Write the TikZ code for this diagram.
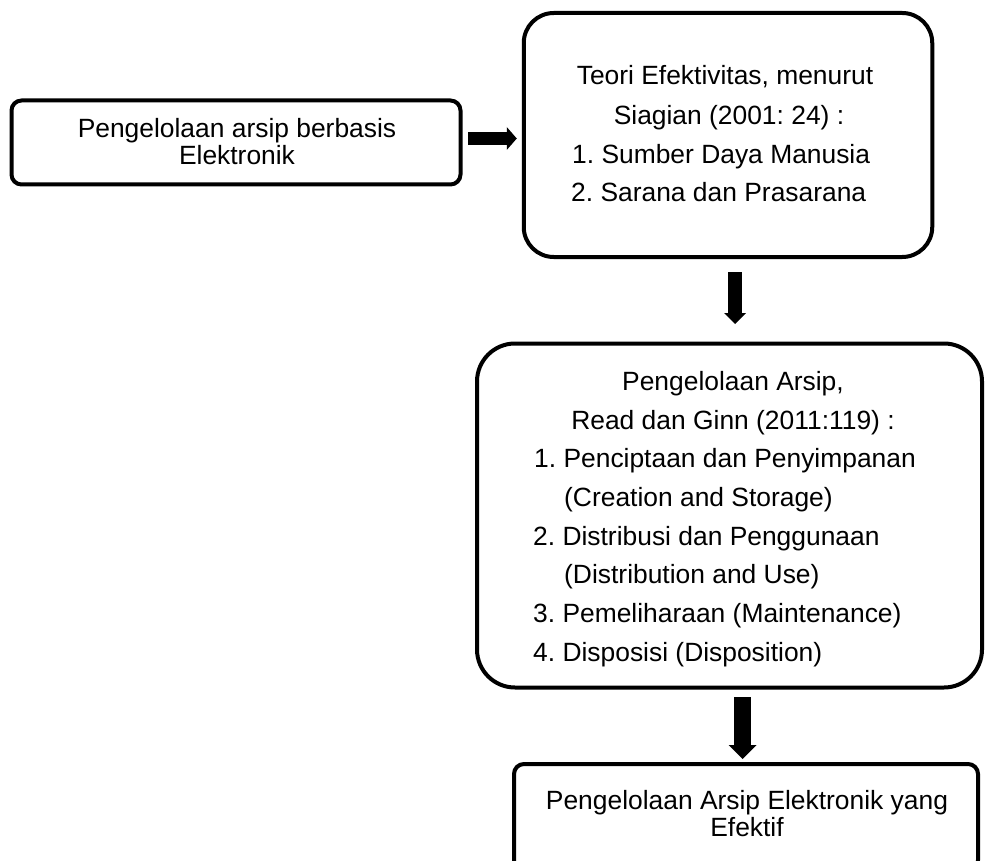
\documentclass[tikz,border=0pt]{standalone}
\usepackage{fontspec}
\setmainfont{Liberation Sans}
\usetikzlibrary{arrows.meta,calc}
\begin{document}
\frenchspacing
\begin{tikzpicture}[x=1pt,y=-1pt,
  boxs/.style={draw=black,line width=4pt,rectangle,inner sep=0pt},
  txt/.style={inner sep=0pt,font=\fontsize{26.4}{30}\selectfont},
  arrA/.style={line width=13pt,-{Triangle[width=23pt,length=10pt,line width=0pt]}},
  arrB/.style={line width=14pt,-{Triangle[width=22pt,length=11pt,line width=0pt]}},
  arrC/.style={line width=17pt,-{Triangle[width=28pt,length=14pt,line width=0pt]}}]
\useasboundingbox (0,0) rectangle (987,861);
% boxes
\node[boxs,rounded corners=10pt,minimum width=449pt,minimum height=84pt] (b1) at (236,142.5) {};
\node[boxs,rounded corners=30pt,minimum width=408.5pt,minimum height=244pt] (b2) at (728,135) {};
\node[boxs,rounded corners=38pt,minimum width=505pt,minimum height=344pt] (b3) at (729.5,515.5) {};
\node[boxs,rounded corners=10pt,minimum width=464pt,minimum height=106pt] (b4) at (746,817) {};
% box 1 text
\node[txt,anchor=base] (t1a) at (237,137.7) {Pengelolaan arsip berbasis};
\node[txt,anchor=base] (t1b) at (237,165) {Elektronik};
% box 2 text
\node[txt,anchor=base] (t2a) at (725,84.3) {Teori Efektivitas, menurut};
\node[txt,anchor=base] (t2b) at (729,125) {Siagian (2001: 24) :};
\node[txt,anchor=base west] (t2c) at (572,164) {1. Sumber Daya Manusia};
\node[txt,anchor=base west] (t2d) at (571,201.7) {2. Sarana dan Prasarana};
% box 3 text
\node[txt,anchor=base] (t3a) at (733,390.7) {Pengelolaan Arsip,};
\node[txt,anchor=base] (t3b) at (733,429.3) {Read dan Ginn (2011:119) :};
\node[txt,anchor=base west] (t3c) at (534,467.9) {1. Penciptaan dan Penyimpanan};
\node[txt,anchor=base west] (t3d) at (564,506.5) {(Creation and Storage)};
\node[txt,anchor=base west] (t3e) at (533,545.1) {2. Distribusi dan Penggunaan};
\node[txt,anchor=base west] (t3f) at (564,583.7) {(Distribution and Use)};
\node[txt,anchor=base west] (t3g) at (533,622.3) {3. Pemeliharaan (Maintenance)};
\node[txt,anchor=base west] (t3h) at (533,661) {4. Disposisi (Disposition)};
% box 4 text
\node[txt,anchor=base] (t4a) at (747,809.3) {Pengelolaan Arsip Elektronik yang};
\node[txt,anchor=base] (t4b) at (747,836) {Efektif};
% arrows
\draw[arrA] ($(b1.east)+(5.5,-4)$) -- ($(b2.west)+(-5,3.5)$);
\draw[arrB] ($(b2.south)+(7,13)$) -- ($(b3.north)+(5.5,-17.5)$);
\draw[arrC] ($(b3.south)+(13,7.5)$) -- ($(b4.north)+(-3.5,-3)$);
\end{tikzpicture}
\end{document}
